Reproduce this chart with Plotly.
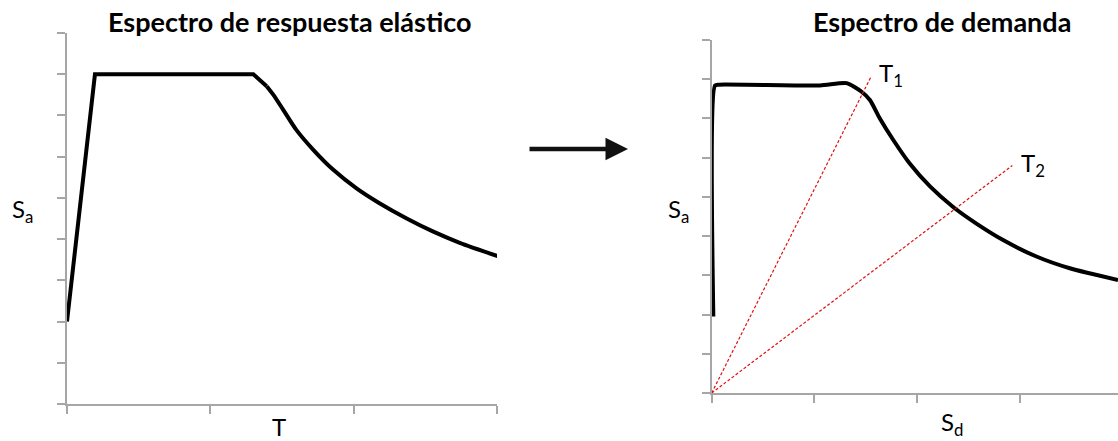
import plotly.graph_objects as go

W, H = 1118, 441

# Left: elastic response spectrum (T vs Sa)
t_vals = [0.0, 0.195, 1.30, 1.393, 1.44, 1.51, 1.60, 1.72, 1.858, 2.02, 2.18, 2.37, 2.556, 2.74, 3.02]
sa_left = [2.0, 8.0, 8.0, 7.71, 7.50, 7.13, 6.65, 6.16, 5.68, 5.23, 4.87, 4.50, 4.18, 3.91, 3.57]
split_left = 3  # index where the descending branch (smooth) begins

# Right: demand spectrum (Sd vs Sa)
sd_vals = [0.016, 0.032, 0.07, 1.055, 1.315, 1.461, 1.542, 1.639, 1.77, 1.93, 2.13, 2.35, 2.58, 2.84, 3.165, 3.49, 3.96]
sa_right = [1.95, 7.84, 7.86, 7.84, 7.90, 7.68, 7.47, 7.00, 6.45, 5.85, 5.26, 4.75, 4.32, 3.90, 3.48, 3.18, 2.88]

# Period lines from origin
t1_x = [0.0, 1.55]
t1_y = [0.0, 8.05]
t2_x = [0.0, 2.93]
t2_y = [0.0, 5.80]

def px_x(p):
    return p / W

def px_y(p):
    return 1 - p / H

fig = go.Figure()
fig.add_trace(go.Scatter(x=t_vals[:split_left + 1], y=sa_left[:split_left + 1], mode="lines",
                         line=dict(color="black", width=4, shape="linear"),
                         xaxis="x", yaxis="y"))
fig.add_trace(go.Scatter(x=t_vals[split_left:], y=sa_left[split_left:], mode="lines",
                         line=dict(color="black", width=4, shape="spline", smoothing=0.8),
                         xaxis="x", yaxis="y"))
fig.add_trace(go.Scatter(x=sd_vals, y=sa_right, mode="lines",
                         line=dict(color="black", width=4, shape="spline", smoothing=0.6),
                         xaxis="x2", yaxis="y2"))
fig.add_trace(go.Scatter(x=t1_x, y=t1_y, mode="lines",
                         line=dict(color="#e01010", width=1.2, dash="3px,2px"),
                         xaxis="x2", yaxis="y2", cliponaxis=False))
fig.add_trace(go.Scatter(x=t2_x, y=t2_y, mode="lines",
                         line=dict(color="#e01010", width=1.2, dash="3px,2px"),
                         xaxis="x2", yaxis="y2", cliponaxis=False))

axis_style = dict(showgrid=False, zeroline=False, showline=True, linecolor="#a6a6a6",
                  linewidth=1.5, ticks="outside", tickcolor="#a6a6a6", ticklen=8,
                  tickwidth=1.5, showticklabels=False, dtick=1, fixedrange=True)

fig.update_layout(
    width=W, height=H,
    margin=dict(l=0, r=0, t=0, b=0),
    paper_bgcolor="white", plot_bgcolor="white",
    showlegend=False,
    xaxis=dict(domain=[px_x(67), px_x(497)], range=[0, 3], anchor="y", **axis_style),
    yaxis=dict(domain=[1 - 404 / H, 1 - 33 / H], range=[0, 9], anchor="x", **axis_style),
    xaxis2=dict(domain=[px_x(711.7), 1.0], range=[0, 3.96], anchor="y2", **axis_style),
    yaxis2=dict(domain=[1 - 393 / H, 1 - 40 / H], range=[0, 9], anchor="x2", **axis_style),
)

font_lbl = dict(family="Lato, Open Sans, sans-serif", size=24, color="black")
font_title = dict(family="Lato, Open Sans, sans-serif", size=27, color="black")

annotations = [
    dict(text="<b>Espectro de respuesta elástico</b>", x=px_x(290), y=px_y(22), font=font_title),
    dict(text="<b>Espectro de demanda</b>", x=px_x(942), y=px_y(22), font=font_title),
    dict(text="S<sub>a</sub>", x=px_x(22), y=px_y(210), font=font_lbl),
    dict(text="S<sub>a</sub>", x=px_x(678), y=px_y(210), font=font_lbl),
    dict(text="T", x=px_x(279), y=px_y(426), font=font_lbl),
    dict(text="S<sub>d</sub>", x=px_x(952), y=px_y(423), font=font_lbl),
    dict(text="T<sub>1</sub>", x=px_x(891), y=px_y(74), font=font_lbl),
    dict(text="T<sub>2</sub>", x=px_x(1033), y=px_y(164), font=font_lbl),
]
for a in annotations:
    a.update(xref="paper", yref="paper", showarrow=False, xanchor="center", yanchor="middle")

annotations.append(dict(x=px_x(628), y=px_y(149), xref="paper", yref="paper",
                        ax=-100, ay=0, axref="pixel", ayref="pixel",
                        text="", showarrow=True, arrowhead=2, arrowsize=1.0,
                        arrowwidth=4.5, arrowcolor="#111111"))
fig.update_layout(annotations=annotations)

fig.write_html("out.html", config=dict(displayModeBar=False))
